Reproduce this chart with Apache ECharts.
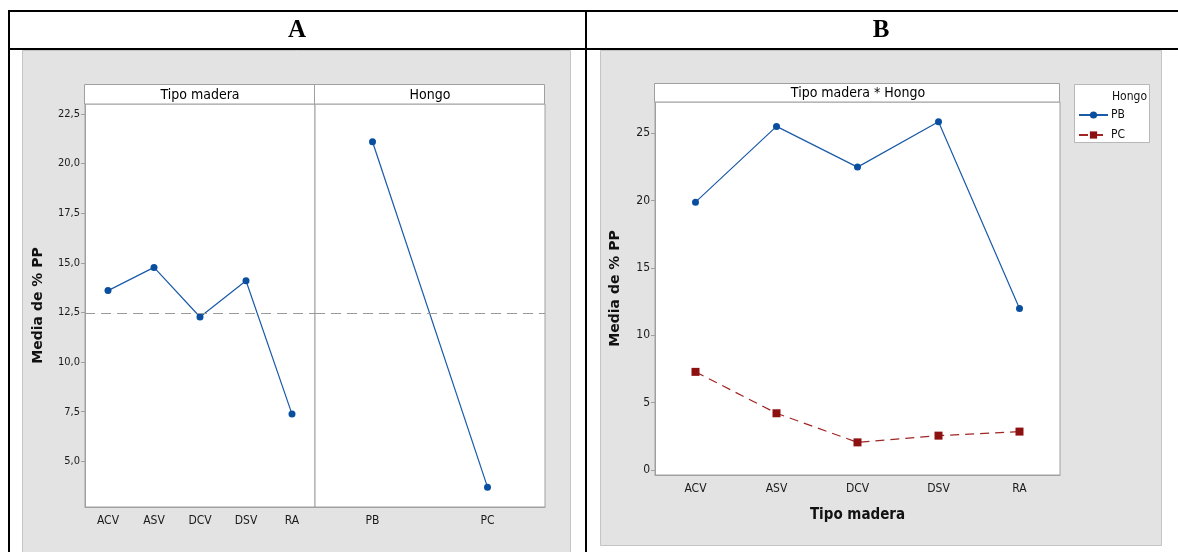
<!DOCTYPE html>
<html>
<head>
<meta charset="utf-8">
<script src="https://cdn.jsdelivr.net/npm/echarts@6/dist/echarts.min.js"></script>
<style>
html,body{margin:0;padding:0;background:#fff;}
#chart{width:1178px;height:552px;}
</style>
</head>
<body>
<div id="chart"></div>
<script>
// ---- data ----
const tipoMadera = ['ACV', 'ASV', 'DCV', 'DSV', 'RA'];
const hongo = ['PB', 'PC'];
const meanTipo = [13.6, 14.77, 12.27, 14.1, 7.38];
const meanHongo = [21.1, 3.7];
const grandMean = 12.45;
const interPB = [19.87, 25.49, 22.47, 25.84, 11.98];
const interPC = [7.28, 4.21, 2.05, 2.55, 2.85];
const ticksA = [5.0, 7.5, 10.0, 12.5, 15.0, 17.5, 20.0, 22.5];
const ticksB = [0, 5, 10, 15, 20, 25];
const panelTitles = ['A', 'B'];
const stripA = ['Tipo madera', 'Hongo'];
const stripB = 'Tipo madera * Hongo';
const yTitle = 'Media de % PP';
const xTitleB = 'Tipo madera';
const legendTitle = 'Hongo';

const FONT = "'Liberation Sans Narrow','DejaVu Sans Condensed','Liberation Sans',sans-serif";
const BLUE = '#1a5aa8';
const BLUE_M = '#0a4f9f';
const RED = '#a02525';
const RED_M = '#8e1111';
const AXIS = '#a0a0a0';

const chart = echarts.init(document.getElementById('chart'), null, {renderer: 'canvas'});

const fmtComma = v => Number(v).toFixed(1).replace('.', ',');

const catAxisCommon = {
  type: 'category',
  boundaryGap: true,
  axisLine: {onZero: false, lineStyle: {color: AXIS}},
  axisTick: {alignWithLabel: true, length: 5, lineStyle: {color: AXIS}},
  axisLabel: {color: '#1a1a1a', fontFamily: FONT, fontSize: 12, margin: 8}
};

const dashMean = {
  symbol: 'none',
  silent: true,
  label: {show: false},
  lineStyle: {color: '#9a9a9a', type: [10, 6], width: 1},
  data: [{yAxis: grandMean}]
};

const option = {
  animation: false,
  backgroundColor: '#ffffff',
  grid: [
    {left: 85, top: 104, width: 230, height: 403, show: true, backgroundColor: '#fff', borderColor: AXIS, borderWidth: 1, containLabel: false},
    {left: 315, top: 104, width: 230, height: 403, show: true, backgroundColor: '#fff', borderColor: AXIS, borderWidth: 1, containLabel: false},
    {left: 655, top: 102, width: 405, height: 373, show: true, backgroundColor: '#fff', borderColor: AXIS, borderWidth: 1, containLabel: false}
  ],
  xAxis: [
    Object.assign({}, catAxisCommon, {gridIndex: 0, data: tipoMadera}),
    Object.assign({}, catAxisCommon, {gridIndex: 1, data: hongo}),
    Object.assign({}, catAxisCommon, {gridIndex: 2, data: tipoMadera,
      name: xTitleB, nameLocation: 'middle', nameGap: 33,
      nameTextStyle: {fontFamily: FONT, fontSize: 15, fontWeight: 'bold', color: '#111'}})
  ],
  yAxis: [
    {type: 'value', gridIndex: 0, min: 2.7, max: 23.0,
      name: yTitle, nameLocation: 'middle', nameRotate: 90, nameGap: 40,
      nameTextStyle: {fontFamily: 'DejaVu Sans', fontSize: 14, fontWeight: 'bold', color: '#111'},
      splitLine: {show: false},
      axisLine: {show: true, lineStyle: {color: AXIS}},
      axisTick: {show: true, length: 4, lineStyle: {color: AXIS}, customValues: ticksA},
      axisLabel: {color: '#1a1a1a', fontFamily: FONT, fontSize: 11, margin: 5, customValues: ticksA, formatter: fmtComma}},
    {type: 'value', gridIndex: 1, min: 2.7, max: 23.0,
      splitLine: {show: false}, axisLine: {show: false}, axisTick: {show: false}, axisLabel: {show: false}},
    {type: 'value', gridIndex: 2, min: -0.37, max: 27.3,
      name: yTitle, nameLocation: 'middle', nameRotate: 90, nameGap: 33,
      nameTextStyle: {fontFamily: 'DejaVu Sans', fontSize: 14, fontWeight: 'bold', color: '#111'},
      splitLine: {show: false},
      axisLine: {show: true, lineStyle: {color: AXIS}},
      axisTick: {show: true, length: 4, lineStyle: {color: AXIS}, customValues: ticksB},
      axisLabel: {color: '#1a1a1a', fontFamily: FONT, fontSize: 12, margin: 5, customValues: ticksB}}
  ],
  legend: {
    orient: 'vertical',
    left: 1073, top: 104,
    z: 30, zlevel: 0,
    itemWidth: 29, itemHeight: 9, itemGap: 8,
    textStyle: {fontFamily: FONT, fontSize: 12, color: '#111', padding: [0, 0, 0, -2]},
    data: ['PB', 'PC']
  },
  series: [
    {type: 'line', xAxisIndex: 0, yAxisIndex: 0, data: meanTipo, symbol: 'circle', symbolSize: 7,
      lineStyle: {color: BLUE, width: 1.2}, itemStyle: {color: BLUE_M}, markLine: dashMean, z: 3},
    {type: 'line', xAxisIndex: 1, yAxisIndex: 1, data: meanHongo, symbol: 'circle', symbolSize: 7,
      lineStyle: {color: BLUE, width: 1.2}, itemStyle: {color: BLUE_M}, markLine: dashMean, z: 3},
    {name: 'PB', type: 'line', xAxisIndex: 2, yAxisIndex: 2, data: interPB, symbol: 'circle', symbolSize: 7,
      lineStyle: {color: BLUE, width: 1.2}, itemStyle: {color: BLUE_M}, z: 3},
    {name: 'PC', type: 'line', xAxisIndex: 2, yAxisIndex: 2, data: interPC, symbol: 'rect', symbolSize: 8,
      lineStyle: {color: RED, width: 1.2, type: [9, 6]}, itemStyle: {color: RED_M}, z: 3}
  ],
  graphic: [
    // gray panel backgrounds
    {type: 'rect', z: -10, shape: {x: 22.5, y: 50.5, width: 548, height: 510}, style: {fill: '#e3e3e3', stroke: '#c4c4c4', lineWidth: 1}},
    {type: 'rect', z: -10, shape: {x: 600.5, y: 50.5, width: 561, height: 495}, style: {fill: '#e3e3e3', stroke: '#c4c4c4', lineWidth: 1}},
    // table borders
    {type: 'line', z: 50, shape: {x1: 8, y1: 11, x2: 1178, y2: 11}, style: {stroke: '#000', lineWidth: 2}},
    {type: 'line', z: 50, shape: {x1: 8, y1: 49, x2: 1178, y2: 49}, style: {stroke: '#000', lineWidth: 2}},
    {type: 'line', z: 50, shape: {x1: 9, y1: 10, x2: 9, y2: 552}, style: {stroke: '#000', lineWidth: 2}},
    {type: 'line', z: 50, shape: {x1: 586, y1: 10, x2: 586, y2: 552}, style: {stroke: '#000', lineWidth: 2}},
    // panel headings
    {type: 'text', z: 50, x: 297, y: 31, style: {text: panelTitles[0], fontFamily: "'Liberation Serif','Times New Roman',serif", fontSize: 25, fontWeight: 'bold', fill: '#000', textAlign: 'center', textVerticalAlign: 'middle'}},
    {type: 'text', z: 50, x: 881, y: 31, style: {text: panelTitles[1], fontFamily: "'Liberation Serif','Times New Roman',serif", fontSize: 25, fontWeight: 'bold', fill: '#000', textAlign: 'center', textVerticalAlign: 'middle'}},
    // strips A
    {type: 'rect', z: 5, shape: {x: 84.5, y: 84.5, width: 230, height: 19.5}, style: {fill: '#fff', stroke: AXIS, lineWidth: 1}},
    {type: 'rect', z: 5, shape: {x: 314.5, y: 84.5, width: 230, height: 19.5}, style: {fill: '#fff', stroke: AXIS, lineWidth: 1}},
    {type: 'text', z: 6, x: 200, y: 95, style: {text: stripA[0], fontFamily: FONT, fontSize: 14, fill: '#000', textAlign: 'center', textVerticalAlign: 'middle'}},
    {type: 'text', z: 6, x: 430, y: 95, style: {text: stripA[1], fontFamily: FONT, fontSize: 14, fill: '#000', textAlign: 'center', textVerticalAlign: 'middle'}},
    // strip B
    {type: 'rect', z: 5, shape: {x: 654.5, y: 83.5, width: 405, height: 18.5}, style: {fill: '#fff', stroke: AXIS, lineWidth: 1}},
    {type: 'text', z: 6, x: 858, y: 93, style: {text: stripB, fontFamily: FONT, fontSize: 14, fill: '#000', textAlign: 'center', textVerticalAlign: 'middle'}},
    // legend box
    {type: 'rect', z: -5, shape: {x: 1074.5, y: 84.5, width: 75, height: 58}, style: {fill: '#fff', stroke: '#b8b8b8', lineWidth: 1}},
    {type: 'text', z: 6, x: 1112, y: 97, style: {text: legendTitle, fontFamily: FONT, fontSize: 12, fill: '#111', textAlign: 'left', textVerticalAlign: 'middle'}}
  ]
};
chart.setOption(option);
</script>
</body>
</html>
